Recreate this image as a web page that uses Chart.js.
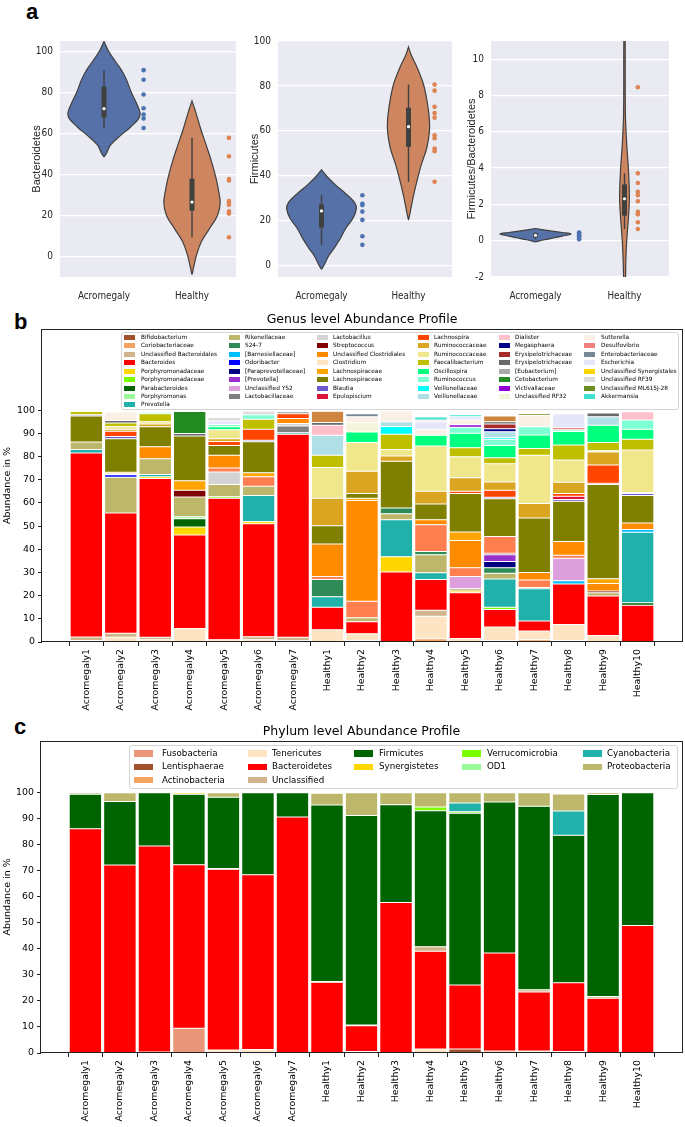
<!DOCTYPE html>
<html>
<head>
<meta charset="utf-8">
<title>Abundance profiles</title>
<script src="https://cdn.jsdelivr.net/npm/chart.js@4.4.1/dist/chart.umd.min.js"></script>
<style>
  body { margin: 0; width: 685px; height: 1127px; position: relative; overflow: hidden; background: #fff; font-family: 'DejaVu Sans', sans-serif; }
  .holder { position: absolute; }
  .tag { position: absolute; font: bold 22px 'Liberation Sans', Arial, sans-serif; line-height: 22px; color: #000; }
  .legend-box { position: absolute; background: rgba(255,255,255,0.85); border: 1px solid #d4d4d4; border-radius: 3px; box-sizing: border-box; }
  .sw { position: absolute; }
  .lab { position: absolute; white-space: nowrap; color: #000; font-family: 'DejaVu Sans', sans-serif; }
</style>
</head>
<body>
<div class="tag" style="left:26px;top:1px">a</div>
<div class="tag" style="left:14px;top:311px">b</div>
<div class="tag" style="left:14px;top:716px">c</div>

<div class="holder" style="left:18px;top:28px;width:222px;height:280px"><canvas id="bactChart"></canvas></div>
<div class="holder" style="left:236px;top:28px;width:220px;height:280px"><canvas id="firmChart"></canvas></div>
<div class="holder" style="left:449px;top:28px;width:224px;height:280px"><canvas id="ratioChart"></canvas></div>
<div class="holder" style="left:0;top:308px;width:685px;height:410px"><canvas id="genusChart"></canvas></div>
<div class="holder" style="left:0;top:720px;width:685px;height:407px"><canvas id="phylumChart"></canvas></div>

<script>
// ---------------- panel a : violin + strip plots ----------------
const groups = ['Acromegaly', 'Healthy'];

// Bacteroidetes (%)
const bactAcromegaly = [90.8, 86.1, 78.9, 72.2, 69.2, 67.2, 62.6];
const bactHealthy = [57.8, 48.8, 37.7, 37.0, 27.0, 26.2, 25.2, 22.0, 20.9, 9.4];
// whisker low, q1, median, q3, whisker high
const bactAcromegalyBox = [62.6, 67.6, 72.0, 82.8, 90.8];
const bactHealthyBox = [9.4, 22.3, 26.5, 38.0, 57.8];
// density outline: y levels and half widths
const bactAcromegalyKdeY = [48.4, 50.5, 54.4, 59, 63, 66.9, 70, 75.5, 80, 85.6, 90, 95, 99.7, 104.8];
const bactAcromegalyKdeW = [0, 0.03, 0.075, 0.19, 0.30, 0.39, 0.41, 0.36, 0.31, 0.26, 0.21, 0.13, 0.056, 0];
const bactHealthyKdeY = [-8.9, -5, 1.25, 7.5, 13.7, 20, 26.2, 32.5, 38.7, 46.5, 54.4, 62, 70, 75.8];
const bactHealthyKdeW = [0, 0.02, 0.055, 0.11, 0.20, 0.29, 0.32, 0.30, 0.27, 0.22, 0.16, 0.10, 0.045, 0];

// Firmicutes (%)
const firmAcromegaly = [31.4, 27.6, 27.0, 24.1, 20.4, 13.1, 9.3];
const firmHealthy = [80.6, 77.9, 70.7, 67.9, 65.9, 58.1, 56.7, 52.1, 51.0, 37.4];
const firmAcromegalyBox = [9.3, 17.0, 24.4, 27.3, 31.4];
const firmHealthyBox = [37.3, 52.9, 61.9, 70.3, 80.6];
const firmAcromegalyKdeY = [-1.6, 0.3, 3.9, 8.1, 12.4, 16.7, 21, 25.3, 28.1, 32.4, 36, 39.6, 42.7];
const firmAcromegalyKdeW = [0, 0.03, 0.075, 0.15, 0.22, 0.28, 0.36, 0.40, 0.38, 0.27, 0.16, 0.065, 0];
const firmHealthyKdeY = [20.3, 23.9, 31, 38.1, 45.3, 52.4, 59.6, 65.3, 73.9, 81, 88.1, 93.9, 97.4];
const firmHealthyKdeW = [0, 0.02, 0.056, 0.10, 0.15, 0.21, 0.24, 0.24, 0.21, 0.17, 0.10, 0.03, 0];

// Firmicutes / Bacteroidetes
const ratioAcromegaly = [0.45, 0.42, 0.38, 0.30, 0.25, 0.18, 0.08];
const ratioHealthy = [8.45, 3.71, 3.18, 2.69, 2.51, 2.17, 1.59, 1.45, 1.02, 0.64];
const ratioAcromegalyBox = [0.08, 0.2, 0.3, 0.42, 0.45];
const ratioHealthyBox = [0.64, 1.38, 2.31, 3.1, 3.71];
const ratioAcromegalyKdeY = [-0.07, 0.05, 0.15, 0.25, 0.37, 0.45, 0.55, 0.67];
const ratioAcromegalyKdeW = [0, 0.1, 0.2, 0.3, 0.40, 0.3, 0.15, 0];
const ratioHealthyKdeY = [-2.5, -1.1, 0, 1.4, 2.4, 3.85, 5.3, 7, 11.5];
const ratioHealthyKdeW = [0.008, 0.015, 0.025, 0.046, 0.055, 0.045, 0.025, 0.01, 0.006];

// ---------------- panel b : genus level ----------------
const samples = ['Acromegaly1', 'Acromegaly2', 'Acromegaly3', 'Acromegaly4', 'Acromegaly5', 'Acromegaly6', 'Acromegaly7',
  'Healthy1', 'Healthy2', 'Healthy3', 'Healthy4', 'Healthy5', 'Healthy6', 'Healthy7', 'Healthy8', 'Healthy9', 'Healthy10'];
const abundanceTicks = [0, 10, 20, 30, 40, 50, 60, 70, 80, 90, 100];

const genusNames = ['Bifidobacterium', 'Coriobacteriaceae', 'Unclassified Bacteroidales', 'Bacteroides', 'Porphyromonadaceae',
  'Porphyromonadaceae', 'Parabacteroides', 'Porphyromonas', 'Prevotella',
  'Rikenellaceae', 'S24-7', '[Barnesiellaceae]', 'Odoribacter', '[Paraprevotellaceae]', '[Prevotella]', 'Unclassified YS2', 'Lactobacillaceae',
  'Lactobacillus', 'Streptococcus', 'Unclassified Clostridiales', 'Clostridium', 'Lachnospiraceae', 'Lachnospiraceae', 'Blautia', 'Epulopiscium',
  'Lachnospira', 'Ruminococcaceae', 'Ruminococcaceae', 'Faecalibacterium', 'Oscillospira', 'Ruminococcus', 'Veillonellaceae', 'Veillonellaceae',
  'Dialister', 'Megasphaera', 'Erysipelotrichaceae', 'Erysipelotrichaceae', '[Eubacterium]', 'Cetobacterium', 'Victivallaceae', 'Unclassified RF32',
  'Sutterella', 'Desulfovibrio', 'Enterobacteriaceae', 'Escherichia', 'Unclassified Synergistales', 'Unclassified RF39', 'Unclassified ML615J-28', 'Akkermansia'];
const genusColors = ['#a0522d', '#f4a460', '#d2b48c', '#ff0000', '#ffd700', '#7cfc00', '#006400', '#98fb98', '#20b2aa',
  '#bdb76b', '#2e8b57', '#00bfff', '#0000ff', '#000080', '#9932cc', '#dda0dd', '#808080',
  '#d3d3d3', '#800000', '#ff8c00', '#ffe4c4', '#ffa500', '#808000', '#6a5acd', '#dc143c',
  '#ff4500', '#daa520', '#f0e68c', '#bfbf00', '#00ff7f', '#7fffd4', '#00ffff', '#b0e0e6',
  '#ffc0cb', '#00008b', '#a52a2a', '#696969', '#a9a9a9', '#228b22', '#9400d3', '#f5f5dc',
  '#faf0e6', '#f08080', '#778899', '#e6e6fa', '#ffd700', '#dcdcdc', '#6b8e23', '#40e0d0'];

const bifidobacterium      = [0, 0, 0, 0, 0, 0, 0, 0, 0.5, 0, 0, 0, 0, 0, 0.7, 0, 0];
const coriobacteriaceae    = [0, 0, 0, 0, 0, 0, 0, 0, 0, 0, 1.4, 0, 0.5, 1.0, 0, 0, 0];
const uncBacteroidales     = [1.6, 1.8, 1.0, 0, 0, 1.3, 1.5, 0, 0, 0, 2.6, 0, 0, 0, 0, 0, 0];
const bacteroides          = [79.3, 51.8, 68.5, 40.3, 61.0, 48.7, 87.6, 9.7, 5.1, 30.2, 13.3, 19.7, 7.5, 4.4, 17.5, 17.0, 15.9];
const porphyromonadaceaeA  = [0, 0, 0.8, 3.5, 0, 1.0, 0, 0, 0, 6.6, 0, 0.8, 0, 0, 0, 0, 0];
const porphyromonadaceaeB  = [0, 0, 0, 0, 0.6, 0, 0, 0, 0, 0, 0, 0, 1.0, 0, 0, 0, 0];
const parabacteroides      = [0, 0, 0, 3.6, 0, 0, 0, 0, 0, 0, 0, 0, 0, 0, 0, 0, 1.0];
const porphyromonas        = [0, 0, 0, 0.8, 0, 0, 0, 0, 0, 0, 0, 0, 0, 0, 0, 0, 0];
const prevotella           = [1.5, 0, 0.9, 0, 0, 11.2, 0.6, 4.5, 0, 15.9, 2.9, 0, 12.2, 13.9, 0, 0, 30.4];
const rikenellaceae        = [3.3, 15.5, 6.8, 8.5, 5.3, 4.0, 0, 0, 1.8, 2.6, 7.7, 1.0, 2.4, 0, 0, 1.4, 0];
const s247                 = [0, 0, 0, 0, 0, 0, 0, 7.5, 0, 2.5, 1.4, 0, 2.4, 0.5, 0, 0, 0];
const barnesiellaceae      = [0, 0, 0, 0, 0, 0, 0, 0, 0, 0, 0, 0, 0, 0, 1.4, 0, 1.2];
const odoribacter          = [0, 1.0, 0, 0, 0, 0, 0, 0, 0, 0, 0, 0, 0, 0, 0, 0, 0];
const paraprevotellaceae   = [0, 0, 0, 0, 0, 0, 0, 0, 0, 0, 0, 0, 2.7, 0, 0, 0, 0];
const prevotellaBracket    = [0, 0, 0, 0, 0, 0, 0, 0, 0, 0, 0, 0, 2.9, 0, 0, 0, 0];
const uncYS2               = [0, 0, 0, 0, 0, 0, 0, 0, 0, 0, 0, 5.2, 0, 0, 9.7, 0, 0];
const lactobacillaceae     = [0, 0, 0, 0, 0, 0, 3.0, 0, 0, 0, 0, 0, 0, 0, 0, 0, 0];
const lactobacillus        = [0, 0, 0, 0, 5.4, 0, 1.0, 0, 0, 0, 0, 0, 0, 0, 0, 0, 0];
const streptococcus        = [0, 0, 0, 3.0, 0, 0, 0, 0, 0, 0, 0, 0, 0.7, 0, 0, 0.8, 0];
const uncClostridiales     = [0, 0.5, 5.2, 0, 5.5, 0, 2.2, 14.0, 43.4, 0, 2.1, 11.8, 0, 3.3, 6.0, 3.2, 2.8];
const clostridium          = [0.6, 2.0, 1.0, 5.8, 1.0, 1.0, 0.5, 5.3, 3.1, 0, 9.7, 1.5, 6.0, 3.7, 6.8, 2.8, 0];
const lachnospiraceaeA     = [0, 0.6, 0, 4.0, 0, 1.7, 0, 0, 1.0, 0, 0, 3.6, 0, 0, 0, 2.1, 0];
const lachnospiraceaeB     = [11.2, 14.5, 8.6, 19.4, 4.3, 13.4, 0, 7.8, 2.0, 20.2, 6.8, 16.6, 16.3, 23.5, 17.3, 40.6, 11.9];
const blautia              = [0.5, 0.9, 0, 0, 0, 0.6, 0, 0, 0, 0, 0, 0, 0.6, 0, 0.8, 0, 0.8];
const epulopiscium         = [0, 0, 0, 0, 0, 0, 0, 0, 0, 0, 0, 0, 0, 0, 1.4, 0.6, 0];
const lachnospira          = [0, 2.3, 0, 0, 1.7, 4.8, 2.1, 0, 0, 0, 0, 1.0, 3.1, 0, 1.1, 7.8, 0.5];
const ruminococcaceaeA     = [0, 0.9, 1.2, 0, 1.2, 0, 0, 11.9, 9.7, 2.2, 5.5, 5.8, 3.5, 6.2, 4.9, 5.6, 0];
const ruminococcaceaeB     = [0, 1.2, 1.0, 0, 3.8, 0, 0, 13.3, 12.3, 2.8, 19.5, 9.1, 7.9, 20.9, 9.6, 0.6, 18.3];
const faecalibacterium     = [1.4, 1.5, 3.5, 0, 0, 4.3, 0, 5.3, 0, 6.6, 0, 3.9, 2.6, 2.9, 6.5, 3.5, 4.6];
const oscillospira         = [0, 0, 0, 0, 1.3, 0, 0, 0, 4.6, 0, 4.7, 6.2, 5.3, 5.8, 5.8, 7.5, 4.4];
const ruminococcus         = [0, 0, 0.6, 0, 1.0, 1.9, 0, 0, 0, 0, 0, 2.6, 2.6, 3.5, 0.7, 0, 4.0];
const veillonellaceaeA     = [0, 0, 0, 0, 0, 0, 0, 0, 0, 3.3, 0, 0, 0.8, 0, 0, 0, 0];
const veillonellaceaeB     = [0, 0, 0, 0, 0, 0, 0, 8.6, 0, 2.1, 0, 0, 2.5, 0, 0, 3.7, 0];
const dialister            = [0, 0, 0, 0, 0, 0, 0, 4.3, 0, 0, 0, 0, 0, 0, 0, 0, 3.5];
const megasphaera          = [0, 0, 0, 0, 0, 0, 0, 0, 0, 0, 0, 0, 1.3, 0, 0, 0, 0];
const erysipelotrichaceaeA = [0, 0, 0, 0, 0, 0, 0, 0, 0, 0, 0, 0, 2.0, 0, 0, 0, 0];
const erysipelotrichaceaeB = [0, 1.0, 0, 1.0, 0, 0, 0.7, 1.2, 0, 0, 0, 0, 1.0, 0, 0, 1.6, 0];
const eubacterium          = [0, 0, 0, 0, 0, 0, 0, 0, 0, 0, 0, 0, 0, 0, 0, 0, 0];
const cetobacterium        = [0, 0, 0, 9.5, 0, 0, 0, 0, 0, 0, 0, 0, 0, 0, 0, 0, 0];
const victivallaceae       = [0, 0, 0, 0, 0, 0, 0, 0, 0, 0, 0, 1.1, 0, 0, 0, 0, 0];
const uncRF32              = [0, 0, 0, 0, 0, 0, 0, 0, 4.1, 0, 0, 0, 0, 0, 0, 0, 0];
const sutterella           = [0, 3.7, 0, 0, 0, 0, 0, 0, 2.5, 4.7, 2.5, 2.0, 0, 5.0, 0, 0, 0];
const desulfovibrio        = [0, 0, 0, 0, 0, 0, 0, 0, 0, 0, 0, 0, 0, 0, 1.0, 0, 0];
const enterobacteriaceae   = [0, 0, 0, 0, 0, 0, 0, 0, 1.2, 0, 0, 0, 0, 0, 0, 0, 0];
const escherichia          = [0, 0, 0, 0, 1.5, 0, 0, 0, 0, 0, 3.3, 1.5, 0, 0, 6.0, 0, 0];
const uncSynergistales     = [0, 0, 0, 0.4, 0, 0, 0, 0, 0, 0, 0, 0, 0, 0, 0, 0, 0];
const uncRF39              = [0, 0, 0, 0, 1.5, 1.5, 0, 0, 0, 0, 0.8, 0, 0, 0, 0, 0, 0];
const uncML615J28          = [0, 0, 0, 0, 0, 0, 0, 0, 0, 0, 0, 0, 0, 0.8, 0, 0, 0];
const akkermansia          = [0, 0, 0, 0, 0, 0, 0, 0, 0, 0, 1.2, 0.8, 0, 0, 0, 0, 0];
// segments drawn in the bars but absent from the legend
const unlistedCoral        = [0, 0, 0, 0, 1.7, 4.1, 0, 1.3, 7.1, 0, 11.6, 3.8, 7.2, 3.2, 1.3, 0, 0];
const unlistedPeru         = [0, 0, 0, 0, 0, 0, 0, 4.8, 0, 0, 0, 0, 2.5, 0, 0, 0, 0];

const genusSeries = [bifidobacterium, coriobacteriaceae, uncBacteroidales, bacteroides, porphyromonadaceaeA,
  porphyromonadaceaeB, parabacteroides, porphyromonas, prevotella,
  rikenellaceae, s247, barnesiellaceae, odoribacter, paraprevotellaceae, prevotellaBracket, uncYS2, lactobacillaceae,
  lactobacillus, streptococcus, uncClostridiales, clostridium, lachnospiraceaeA, lachnospiraceaeB, blautia, epulopiscium,
  lachnospira, ruminococcaceaeA, ruminococcaceaeB, faecalibacterium, oscillospira, ruminococcus, veillonellaceaeA, veillonellaceaeB,
  dialister, megasphaera, erysipelotrichaceaeA, erysipelotrichaceaeB, eubacterium, cetobacterium, victivallaceae, uncRF32,
  sutterella, desulfovibrio, enterobacteriaceae, escherichia, uncSynergistales, uncRF39, uncML615J28, akkermansia];
// bottom-to-top order of the segments (legend indices)
const genusStackOrder = [0, 1, 20, 2, 3, 4, 5, 6, 7, 8, 9, 10, 11, 12, 13, 14, 15, 16, 17, 18, 'coral', 19,
  21, 22, 23, 24, 25, 26, 27, 28, 29, 30, 31, 32, 33, 34, 35, 36, 37, 38, 39, 40, 41, 42, 43, 44, 45, 46, 47, 48, 'peru'];

// ---------------- panel c : phylum level ----------------
const phylumNames = ['Fusobacteria', 'Lentisphaerae', 'Actinobacteria', 'Tenericutes', 'Bacteroidetes', 'Unclassified',
  'Firmicutes', 'Synergistetes', 'Verrucomicrobia', 'OD1', 'Cyanobacteria', 'Proteobacteria'];
const phylumColors = ['#e9967a', '#a0522d', '#f4a460', '#ffe4c4', '#ff0000', '#d2b48c',
  '#006400', '#ffd700', '#7cfc00', '#98fb98', '#20b2aa', '#bdb76b'];
const fusobacteria    = [0, 0, 0, 9.5, 0, 0, 0, 0, 0, 0, 0, 0, 0, 0, 0, 0, 0];
const lentisphaerae   = [0, 0, 0, 0, 0, 0, 0, 0, 0, 0, 0, 1.5, 0, 0, 0, 0, 0];
const actinobacteria  = [0, 0, 0, 0, 0, 0, 0, 0, 0.6, 0, 0, 0, 0.8, 0, 0.6, 0, 0];
const tenericutes     = [0, 0, 0.4, 0, 1.2, 1.3, 0, 0, 0, 0, 1.5, 0, 0, 0.8, 0, 0, 0];
const bacteroidetes   = [86.2, 72.2, 79.1, 62.8, 69.4, 67.2, 90.7, 27.2, 9.9, 57.8, 37.6, 24.6, 37.6, 22.6, 26.4, 21.0, 49.0];
const unclassified    = [0, 0, 0, 0, 0.3, 0, 0, 0.3, 0.3, 0, 1.7, 0, 0, 0.9, 0, 0.7, 0];
const firmicutes      = [13.2, 24.4, 20.5, 27.1, 27.4, 31.5, 9.3, 67.8, 80.5, 37.6, 52.3, 66.0, 58.0, 70.5, 56.7, 77.6, 51.0];
const synergistetes   = [0, 0, 0, 0.6, 0, 0, 0, 0, 0, 0, 0, 0, 0, 0, 0, 0, 0];
const verrucomicrobia = [0, 0, 0, 0, 0, 0, 0, 0, 0, 0, 1.4, 0.6, 0, 0, 0, 0, 0];
const od1             = [0, 0, 0, 0, 0, 0, 0, 0, 0, 0, 0, 0, 0, 0, 0, 0, 0];
const cyanobacteria   = [0, 0, 0, 0, 0, 0, 0, 0, 0, 0, 0, 3.4, 0, 0, 9.3, 0, 0];
const proteobacteria  = [0.6, 3.4, 0, 0, 1.7, 0, 0, 4.5, 8.7, 4.6, 5.5, 3.9, 3.6, 5.2, 6.5, 0.7, 0];
const phylumSeries = [fusobacteria, lentisphaerae, actinobacteria, tenericutes, bacteroidetes, unclassified,
  firmicutes, synergistetes, verrucomicrobia, od1, cyanobacteria, proteobacteria];

// ---------------- helpers ----------------
Chart.defaults.font.family = "'DejaVu Sans', sans-serif";
const narrow = "'Liberation Sans Narrow', 'DejaVu Sans Condensed', sans-serif";

const plotBackground = {
  id: 'plotBackground',
  beforeDraw(chart, args, opts) {
    const {ctx, chartArea: a} = chart;
    ctx.save();
    ctx.fillStyle = opts.color;
    ctx.fillRect(a.left, a.top, a.width, a.height);
    ctx.restore();
  }
};
const axesFrame = {
  id: 'axesFrame',
  afterDatasetsDraw(chart) {
    const {ctx, chartArea: a} = chart;
    ctx.save();
    ctx.strokeStyle = '#222';
    ctx.lineWidth = 1;
    ctx.strokeRect(Math.round(a.left) - 0.5, Math.round(a.top) + 0.5, Math.round(a.width) + 1, Math.round(a.height) - 1);
    ctx.restore();
  }
};

function violinChart(id, yTitle, yMin, yMax, yStep, titlePad, parts) {
  const datasets = [];
  parts.forEach(function(p, g) {
    const left = p.kdeY.map((y, i) => ({x: g - p.kdeW[i], y: y}));
    const right = p.kdeY.map((y, i) => ({x: g + p.kdeW[i], y: y})).reverse();
    datasets.push({data: left.concat(right, [left[0]]), showLine: true, fill: 'shape', backgroundColor: p.fill,
      borderColor: '#404040', borderWidth: 1.2, pointRadius: 0, tension: 0.35, order: 5});
    datasets.push({data: [{x: g, y: p.box[0]}, {x: g, y: p.box[4]}], showLine: true, borderColor: '#404040',
      borderWidth: 1.4, pointRadius: 0, order: 4});
    datasets.push({data: [{x: g, y: p.box[1]}, {x: g, y: p.box[3]}], showLine: true, borderColor: '#404040',
      borderWidth: 5, borderCapStyle: 'butt', pointRadius: 0, order: 3});
    datasets.push({data: [{x: g, y: p.box[2]}], pointRadius: 1.6, pointBackgroundColor: '#ffffff', pointBorderWidth: 0, order: 2});
    datasets.push({data: p.values.map(v => ({x: g + p.offset, y: v})), pointRadius: 2.3,
      pointBackgroundColor: p.dot, pointBorderWidth: 0, order: 1});
  });
  return new Chart(document.getElementById(id), {
    type: 'scatter',
    data: {datasets: datasets},
    options: {
      animation: false, responsive: true, maintainAspectRatio: false,
      layout: {padding: {top: 4, right: 3, left: 0, bottom: 0}},
      plugins: {legend: {display: false}, tooltip: {enabled: false}, plotBackground: {color: '#eaeaf2'}},
      scales: {
        x: {
          type: 'linear', min: -0.5, max: 1.5,
          afterBuildTicks: s => { s.ticks = groups.map((_, i) => ({value: i})); },
          afterFit: s => { s.height = 31; },
          grid: {display: false}, border: {display: false},
          ticks: {callback: v => groups[v], autoSkip: false, maxRotation: 0, padding: 6,
                  color: '#262626', font: {family: narrow, size: 9.8}}
        },
        y: {
          min: yMin, max: yMax,
          afterFit: s => { s.width = 42; },
          grid: {color: '#ffffff', lineWidth: 1.2, drawTicks: false}, border: {display: false},
          ticks: {stepSize: yStep, includeBounds: false, padding: 7, color: '#262626', font: {family: narrow, size: 10}},
          title: {display: true, text: yTitle, color: '#262626', font: {family: "'Liberation Sans', Arial, sans-serif", size: 11},
                  padding: {top: titlePad, bottom: 0}}
        }
      }
    },
    plugins: [plotBackground]
  });
}

function abundanceChart(id, title, datasets, yMax, xHeight, yWidth, titlePad) {
  return new Chart(document.getElementById(id), {
    type: 'bar',
    data: {datasets: datasets},
    options: {
      animation: false, responsive: true, maintainAspectRatio: false,
      layout: {padding: {top: 0, right: 3, left: 0, bottom: 0}},
      datasets: {bar: {barPercentage: 0.94, categoryPercentage: 1, borderColor: '#ffffff', borderWidth: 0.5, borderSkipped: false}},
      plugins: {
        legend: {display: false}, tooltip: {enabled: false},
        title: {display: true, text: title, fullSize: false, color: '#000', font: {size: 12.5, weight: 'normal'},
                padding: {top: titlePad, bottom: 1.5}}
      },
      scales: {
        x: {
          type: 'linear', min: -0.74, max: 16.74, stacked: true,
          afterBuildTicks: s => { s.ticks = samples.map((_, i) => ({value: i})); },
          afterFit: s => { s.height = xHeight; },
          grid: {drawOnChartArea: false, tickLength: 4, color: '#222'}, border: {display: false},
          ticks: {callback: v => samples[v], autoSkip: false, minRotation: 90, maxRotation: 90, padding: 3,
                  color: '#000', font: {size: 9.4}}
        },
        y: {
          stacked: true, min: 0, max: yMax,
          afterBuildTicks: s => { s.ticks = abundanceTicks.map(v => ({value: v})); },
          afterFit: s => { s.width = yWidth; },
          grid: {drawOnChartArea: false, tickLength: 4, color: '#222'}, border: {display: false},
          ticks: {padding: 3, color: '#000', font: {size: 9.4}},
          title: {display: true, text: 'Abundance in %', color: '#000', font: {size: 9.5}, padding: {top: 2, bottom: 0}}
        }
      }
    },
    plugins: [axesFrame]
  });
}

function htmlLegend(box, names, colors, colSizes, swX, txX, rowY, sw, font) {
  const frame = document.createElement('div');
  frame.className = 'legend-box';
  frame.style.cssText = `left:${box.left}px;top:${box.top}px;width:${box.width}px;height:${box.height}px`;
  document.body.appendChild(frame);
  let k = 0;
  colSizes.forEach(function(n, c) {
    for (let r = 0; r < n; r++, k++) {
      const s = document.createElement('div');
      s.className = 'sw';
      s.style.cssText = `left:${swX[c]}px;top:${rowY[r] - sw.h / 2}px;width:${sw.w}px;height:${sw.h}px;background:${colors[k]}`;
      document.body.appendChild(s);
      const t = document.createElement('div');
      t.className = 'lab';
      t.textContent = names[k];
      t.style.cssText = `left:${txX[c]}px;top:${rowY[r] - font.lh / 2}px;font-size:${font.size}px;line-height:${font.lh}px`;
      document.body.appendChild(t);
    }
  });
}

// ---------------- panel a ----------------
const blueFill = '#5571a7', orangeFill = '#cd8660', blueDot = '#4c72b0', orangeDot = '#dd8452';
violinChart('bactChart', 'Bacteroidetes', -10, 105, 20, 12.4, [
  {kdeY: bactAcromegalyKdeY, kdeW: bactAcromegalyKdeW, box: bactAcromegalyBox, values: bactAcromegaly, offset: 0.45, fill: blueFill, dot: blueDot},
  {kdeY: bactHealthyKdeY, kdeW: bactHealthyKdeW, box: bactHealthyBox, values: bactHealthy, offset: 0.42, fill: orangeFill, dot: orangeDot}
]);
violinChart('firmChart', 'Firmicutes', -5, 100, 20, 12.4, [
  {kdeY: firmAcromegalyKdeY, kdeW: firmAcromegalyKdeW, box: firmAcromegalyBox, values: firmAcromegaly, offset: 0.47, fill: blueFill, dot: blueDot},
  {kdeY: firmHealthyKdeY, kdeW: firmHealthyKdeW, box: firmHealthyBox, values: firmHealthy, offset: 0.30, fill: orangeFill, dot: orangeDot}
]);
violinChart('ratioChart', 'Firmicutes/Bacteroidetes', -2, 11, 2, 16.4, [
  {kdeY: ratioAcromegalyKdeY, kdeW: ratioAcromegalyKdeW, box: ratioAcromegalyBox, values: ratioAcromegaly, offset: 0.49, fill: blueFill, dot: blueDot},
  {kdeY: ratioHealthyKdeY, kdeW: ratioHealthyKdeW, box: ratioHealthyBox, values: ratioHealthy, offset: 0.15, fill: orangeFill, dot: orangeDot}
]);

// ---------------- panel b ----------------
const genusDatasets = genusStackOrder.map(function(k) {
  let label, values, color;
  if (k === 'coral') { label = 'Unlisted genus'; values = unlistedCoral; color = '#ff7f50'; }
  else if (k === 'peru') { label = 'Unlisted genus'; values = unlistedPeru; color = '#cd853f'; }
  else { label = genusNames[k]; values = genusSeries[k]; color = genusColors[k]; }
  return {label: label, data: values.map((v, i) => ({x: i, y: v})), backgroundColor: color};
});
abundanceChart('genusChart', 'Genus level Abundance Profile', genusDatasets, 135, 76, 42, 4.5);
htmlLegend({left: 121, top: 332, width: 558, height: 78}, genusNames, genusColors, [9, 8, 8, 8, 8, 8],
  [124, 229, 317, 418, 499, 584], [141, 245, 333, 434, 515, 601],
  [337.3, 345.75, 354.2, 362.65, 371.1, 379.55, 388, 396.45, 404.9], {w: 11, h: 5}, {size: 5.8, lh: 7});

// ---------------- panel c ----------------
const phylumDatasets = phylumSeries.map((values, k) => ({
  label: phylumNames[k], data: values.map((v, i) => ({x: i, y: v})), backgroundColor: phylumColors[k]
}));
abundanceChart('phylumChart', 'Phylum level Abundance Profile', phylumDatasets, 120, 74, 41, 4.2);
htmlLegend({left: 129, top: 745, width: 549, height: 44}, phylumNames, phylumColors, [3, 3, 2, 2, 2],
  [134, 248, 354, 462, 583], [162, 272, 379, 487, 607], [753.5, 766.8, 780.1], {w: 19, h: 6.5}, {size: 8.7, lh: 11});
</script>
</body>
</html>
